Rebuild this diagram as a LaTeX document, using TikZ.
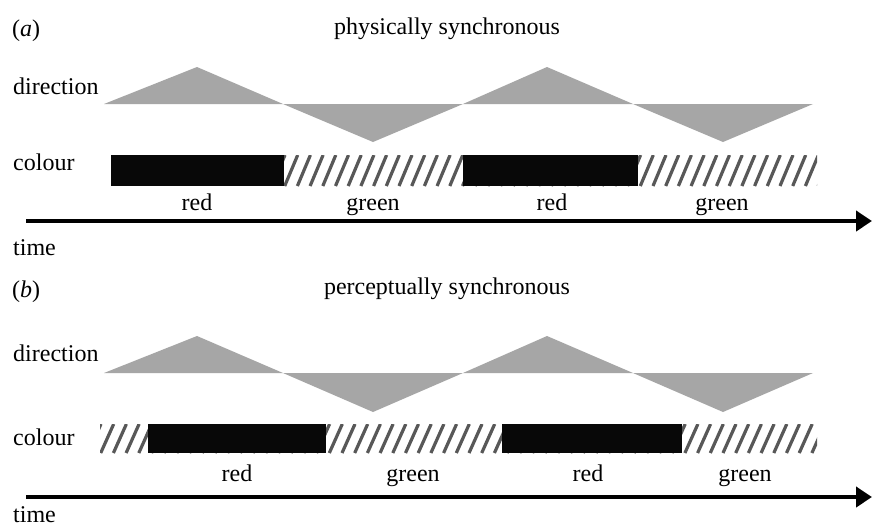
\documentclass[tikz,border=0pt]{standalone}
\usepackage{fontspec}
\setmainfont{Liberation Serif}
\usetikzlibrary{arrows.meta}
\definecolor{wavegray}{RGB}{166,166,166}
\definecolor{hatchgray}{RGB}{88,88,88}
\tikzset{
  lbl/.style = {anchor=base west, inner sep=0pt, font=\fontsize{24}{28}\selectfont},
  midlbl/.style = {lbl, anchor=base},
  wave/.style = {fill=wavegray},
  redbar/.style = {fill=black!97},
  hatchline/.style = {draw=hatchgray, line width=3.2pt},
  timearrow/.style = {line width=4pt, -{Triangle[length=16pt,width=20pt]}}
}

\begin{document}
\begin{tikzpicture}[x=1pt, y=-1pt]
  \useasboundingbox[fill=white] (0,0) rectangle (873,528);

  % (a) physically synchronous
  \node[lbl] (tagA) at (12,36) {(\textit{a})};
  \node[midlbl] (titleA) at (447,34) {physically synchronous};
  \node[lbl] (dirA) at (13,94) {direction};
  \node[lbl] (colA) at (13,170) {colour};
  \node[lbl] (timeA) at (13,255) {time};
  \fill[wave] (104,104) -- (197,67) -- (283,104) -- (373,142) -- (463,104)
    -- (547,67) -- (633,104) -- (723,142) -- (813,104) -- cycle;
  \begin{scope}
    \clip (284,155) rectangle (817,186);
    \foreach \k in {0,...,44}
      \draw[hatchline] (272+12.7*\k,186) -- ++(13,-31);
  \end{scope}
  \fill[redbar] (111,155) rectangle (284,186);
  \fill[redbar] (463,155) rectangle (638,186);
  \node[midlbl] (redA1) at (197,210) {red};
  \node[midlbl] (greenA1) at (373,210) {green};
  \node[midlbl] (redA2) at (552,210) {red};
  \node[midlbl] (greenA2) at (722,210) {green};
  \coordinate (startA) at (26,221);
  \coordinate (endA) at (872,221);
  \draw[timearrow] (startA) -- (endA);

  % (b) perceptually synchronous
  \node[lbl] (tagB) at (12,297) {(\textit{b})};
  \node[midlbl] (titleB) at (447,294) {perceptually synchronous};
  \node[lbl] (dirB) at (13,361) {direction};
  \node[lbl] (colB) at (13,445) {colour};
  \node[lbl] (timeB) at (13,522) {time};
  \fill[wave] (104,373) -- (197,336) -- (283,373) -- (373,412) -- (463,373)
    -- (547,336) -- (633,373) -- (723,412) -- (813,373) -- cycle;
  \begin{scope}
    \clip (100,424) rectangle (817,453);
    \foreach \k in {0,...,58}
      \draw[hatchline] (88+12.7*\k,453) -- ++(13,-29);
  \end{scope}
  \fill[redbar] (148,424) rectangle (326,453);
  \fill[redbar] (502,424) rectangle (682,453);
  \node[midlbl] (redB1) at (237,481) {red};
  \node[midlbl] (greenB1) at (413,481) {green};
  \node[midlbl] (redB2) at (588,481) {red};
  \node[midlbl] (greenB2) at (745,481) {green};
  \coordinate (startB) at (26,497);
  \coordinate (endB) at (872,497);
  \draw[timearrow] (startB) -- (endB);
\end{tikzpicture}
\end{document}
